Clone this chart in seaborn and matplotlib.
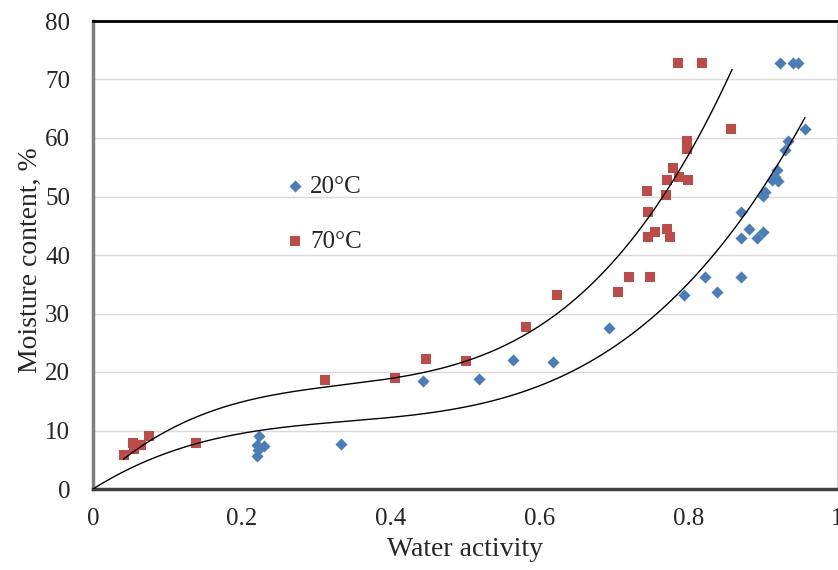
import numpy as np
import pandas as pd
import seaborn as sns
import matplotlib
matplotlib.use("Agg")
import matplotlib.pyplot as plt
from matplotlib.ticker import MultipleLocator

# Sorption data: water activity vs. moisture content (%)
aw_20 = [0.223, 0.221, 0.230, 0.222, 0.221, 0.333, 0.443, 0.519, 0.565, 0.618,
         0.694, 0.795, 0.822, 0.839, 0.871, 0.871, 0.871, 0.882, 0.893, 0.901,
         0.901, 0.903, 0.912, 0.916, 0.919, 0.921, 0.930, 0.934, 0.957, 0.924,
         0.941, 0.948]
mc_20 = [9.1, 7.6, 7.3, 6.7, 5.7, 7.7, 18.5, 18.8, 22.1, 21.7,
         27.6, 33.1, 36.2, 33.6, 36.2, 42.9, 47.3, 44.4, 42.9, 43.9,
         50.1, 50.8, 52.8, 53.4, 54.6, 52.6, 57.9, 59.5, 61.5, 72.8,
         72.8, 72.8]

aw_70 = [0.041, 0.054, 0.055, 0.064, 0.075, 0.139, 0.312, 0.406, 0.448, 0.501,
         0.582, 0.623, 0.705, 0.720, 0.744, 0.746, 0.746, 0.749, 0.755, 0.770,
         0.771, 0.771, 0.776, 0.780, 0.788, 0.798, 0.798, 0.800, 0.786, 0.819,
         0.857]
mc_70 = [5.8, 7.8, 6.8, 7.5, 9.1, 7.8, 18.6, 18.9, 22.2, 21.8,
         27.7, 33.2, 33.7, 36.3, 51.0, 47.4, 43.0, 36.3, 44.0, 50.3,
         52.9, 44.4, 43.0, 54.8, 53.4, 59.5, 58.1, 52.9, 72.9, 72.9,
         61.6]

series_labels = ["20°C", "70°C"]

# Cubic isotherm fits (highest power first) and the water-activity span of each
fit_20 = [196.7, -202.7, 80.2, 0.0]
span_20 = (0.0, 0.957)
fit_70 = [317.5, -319.0, 122.56, 0.589]
span_70 = (0.041, 0.859)

x_ticks = [0, 0.2, 0.4, 0.6, 0.8, 1.0]
x_tick_labels = ["0", "0.2", "0.4", "0.6", "0.8", "1"]
y_ticks = [0, 10, 20, 30, 40, 50, 60, 70, 80]

BLUE = "#4A7EBB"
RED = "#BE4B48"

sns.set_style("white")
plt.rcParams["font.family"] = ["Liberation Serif", "DejaVu Serif"]

fig = plt.figure(figsize=(8.38, 5.70), dpi=100)
ax = fig.add_axes([93 / 838, 81 / 570, 744 / 838, 468 / 570])

df20 = pd.DataFrame({"aw": aw_20, "mc": mc_20})
df70 = pd.DataFrame({"aw": aw_70, "mc": mc_70})

sns.scatterplot(data=df20, x="aw", y="mc", marker="D", s=38, color=BLUE,
                linewidth=0, label=series_labels[0], ax=ax, zorder=3)
sns.scatterplot(data=df70, x="aw", y="mc", marker="s", s=46, color=RED,
                linewidth=0, label=series_labels[1], ax=ax, zorder=3)

for coef, (lo, hi) in [(fit_20, span_20), (fit_70, span_70)]:
    grid = np.linspace(lo, hi, 300)
    sns.lineplot(x=grid, y=np.polyval(coef, grid), color="black", lw=1.0,
                 sort=False, estimator=None, ax=ax, legend=False, zorder=4)

ax.set_xlim(0, 1)
ax.set_ylim(0, 80)
ax.set_xticks(x_ticks)
ax.set_xticklabels(x_tick_labels)
ax.set_yticks(y_ticks)
ax.yaxis.set_minor_locator(MultipleLocator(2))

ax.grid(axis="y", which="major", color="#D9D9D9", lw=1.0)
ax.set_axisbelow(True)

ax.tick_params(axis="x", which="major", direction="in", length=5, width=1,
               color="#808080", labelsize=18, pad=14)
ax.tick_params(axis="y", which="major", direction="in", length=4, width=1,
               color="#808080", labelsize=18, pad=16.5)
ax.tick_params(axis="y", which="minor", direction="in", length=4, width=1,
               color="#808080")

for side, col, lw in [("left", "#7F7F7F", 2.5), ("bottom", "#404040", 2.5),
                      ("top", "#000000", 2.0), ("right", "#D9D9D9", 1.0)]:
    ax.spines[side].set_visible(True)
    ax.spines[side].set_color(col)
    ax.spines[side].set_linewidth(lw)

ax.set_xlabel("Water activity", fontsize=20)
ax.set_ylabel("Moisture content, %", fontsize=20)
ax.xaxis.set_label_coords(0.5, -0.103)
ax.yaxis.set_label_coords(-0.067, 0.49)

handles, labels = ax.get_legend_handles_labels()
ax.legend(handles, labels, frameon=False, fontsize=18, loc="center left",
          bbox_to_anchor=(0.245, 0.587), borderpad=0, handlelength=0.6,
          handletextpad=0.3, labelspacing=1.3, markerscale=1.0)

fig.savefig("out.png", dpi=100)
